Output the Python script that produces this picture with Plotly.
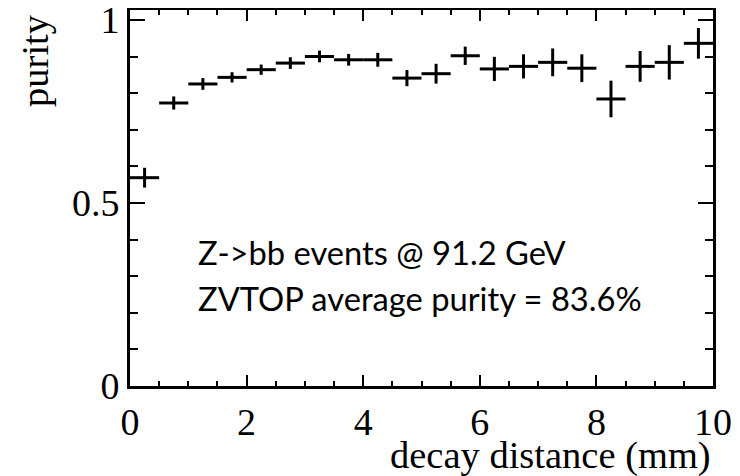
import plotly.graph_objects as go

# bin centres (mm), purity and its error
distance = [0.25, 0.75, 1.25, 1.75, 2.25, 2.75, 3.25, 3.75, 4.25, 4.75,
            5.25, 5.75, 6.25, 6.75, 7.25, 7.75, 8.25, 8.75, 9.25, 9.75]
purity = [0.569, 0.773, 0.825, 0.843, 0.864, 0.882, 0.900, 0.891, 0.891, 0.841,
          0.853, 0.902, 0.866, 0.873, 0.884, 0.868, 0.784, 0.873, 0.884, 0.936]
purity_err = [0.027, 0.018, 0.016, 0.014, 0.014, 0.016, 0.016, 0.016, 0.019, 0.022,
              0.027, 0.025, 0.033, 0.033, 0.038, 0.038, 0.050, 0.042, 0.047, 0.042]
half_bin = [0.25] * len(distance)

info_lines = ["Z->bb events @ 91.2 GeV", "ZVTOP average purity = 83.6%"]

serif = "Liberation Serif, Times New Roman, serif"
sans = "Lato, Open Sans, sans-serif"

fig = go.Figure()
fig.add_trace(go.Scatter(
    x=distance, y=purity, mode="markers",
    marker=dict(color="rgba(0,0,0,0)", size=1),
    error_x=dict(type="data", array=half_bin, width=0, thickness=3, color="black"),
    error_y=dict(type="data", array=purity_err, width=0, thickness=3, color="black"),
    showlegend=False, hoverinfo="skip",
))

axis_common = dict(
    showline=True, linecolor="black", linewidth=3, mirror="allticks",
    showgrid=False, zeroline=False, ticks="inside", tickcolor="black",
    tickwidth=2, tickfont=dict(family=serif, size=38, color="black"),
    automargin=False, ticklabeloverflow="allow",
)

fig.update_xaxes(range=[0, 10], tickvals=[0, 2, 4, 6, 8, 10], ticklen=11,
                 minor=dict(dtick=0.5, ticks="inside", ticklen=5, tickwidth=2,
                            tickcolor="black", showgrid=False),
                 **axis_common)
fig.update_yaxes(range=[0, 1.027], tickvals=[0, 0.5, 1], ticktext=["0", "0.5", "1"],
                 ticklen=15,
                 minor=dict(dtick=0.1, ticks="inside", ticklen=8, tickwidth=2,
                            tickcolor="black", showgrid=False),
                 **axis_common)

fig.add_annotation(text=info_lines[0], xref="paper", yref="paper", x=0.113, y=0.355,
                   xanchor="left", yanchor="middle", showarrow=False,
                   font=dict(family=sans, size=32.7, color="black"))
fig.add_annotation(text=info_lines[1], xref="paper", yref="paper", x=0.113, y=0.232,
                   xanchor="left", yanchor="middle", showarrow=False,
                   font=dict(family=sans, size=32.7, color="black"))

fig.add_annotation(text="purity", xref="paper", yref="paper", x=-0.162, y=0.995,
                   xanchor="center", yanchor="top", textangle=-90, showarrow=False,
                   font=dict(family=serif, size=38.5, color="black"))
fig.add_annotation(text="decay distance (mm)", xref="paper", yref="paper", x=1.0, y=-0.186,
                   xanchor="right", yanchor="middle", showarrow=False,
                   font=dict(family=serif, size=38.5, color="black"))

# the page adds an 8px body margin, so the figure is drawn 8px smaller
fig.update_layout(
    template="none",
    width=732, height=468,
    margin=dict(l=122, r=27, t=2, b=90),
    plot_bgcolor="white", paper_bgcolor="white",
)

fig.write_html("out.html")
